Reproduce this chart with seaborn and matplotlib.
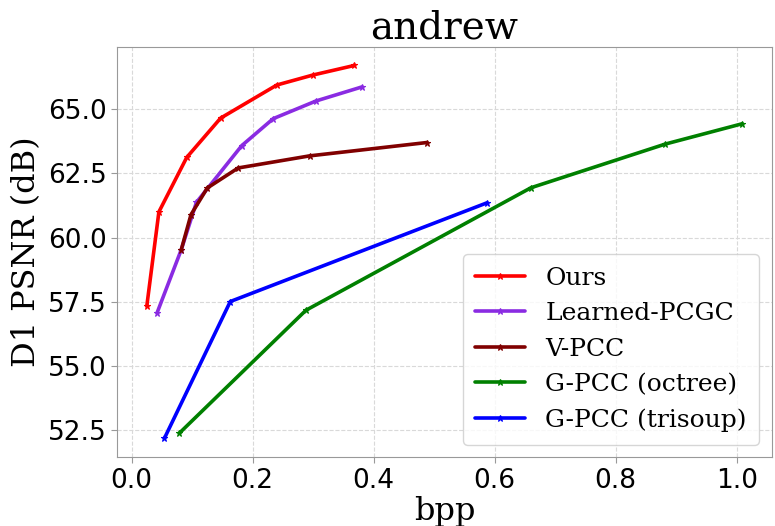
import numpy as np
import matplotlib
matplotlib.use("Agg")
import matplotlib.pyplot as plt
import pandas as pd
import seaborn as sns

# rate-distortion points
ours_bpp = [0.025, 0.045, 0.091, 0.147, 0.240, 0.300, 0.368]
ours_psnr = [57.33, 61.00, 63.12, 64.65, 65.94, 66.33, 66.70]

pcgc_bpp = [0.042, 0.082, 0.107, 0.182, 0.234, 0.305, 0.380]
pcgc_psnr = [57.07, 59.53, 61.37, 63.58, 64.63, 65.32, 65.86]

vpcc_bpp = [0.082, 0.098, 0.125, 0.176, 0.294, 0.488]
vpcc_psnr = [59.53, 60.89, 61.93, 62.71, 63.18, 63.70]

octree_bpp = [0.079, 0.288, 0.660, 0.882, 1.009]
octree_psnr = [52.39, 57.17, 61.94, 63.64, 64.43]

trisoup_bpp = [0.054, 0.163, 0.587]
trisoup_psnr = [52.18, 57.51, 61.35]

methods = ["Ours", "Learned-PCGC", "V-PCC", "G-PCC (octree)", "G-PCC (trisoup)"]
colors = ["red", "blueviolet", "maroon", "green", "blue"]

frames = []
for name, b, p in zip(methods,
                      [ours_bpp, pcgc_bpp, vpcc_bpp, octree_bpp, trisoup_bpp],
                      [ours_psnr, pcgc_psnr, vpcc_psnr, octree_psnr, trisoup_psnr]):
    frames.append(pd.DataFrame({"bpp": b, "psnr": p, "method": name}))
df = pd.concat(frames, ignore_index=True)

sns.set_style("whitegrid", {"grid.linestyle": "--", "grid.color": "#d9d9d9",
                            "axes.edgecolor": "#999999", "text.color": "black",
                            "xtick.color": "black", "ytick.color": "black",
                            "axes.labelcolor": "black"})

fig = plt.figure(figsize=(7.75, 5.26), dpi=100)
ax = fig.add_axes([0.151, 0.131, 0.845, 0.78])

for name, c in zip(methods, colors):
    sub = df[df["method"] == name]
    sns.lineplot(data=sub, x="bpp", y="psnr", ax=ax, color=c, linewidth=2.6,
                 marker="*", markersize=5, markeredgewidth=0.8,
                 markeredgecolor=c, label=name, sort=False)

ax.set_title("andrew", fontsize=28, family="DejaVu Serif", color="black")
ax.set_xlabel("bpp", fontsize=23, family="DejaVu Serif", labelpad=2)
ax.set_ylabel("D1 PSNR (dB)", fontsize=23, family="DejaVu Serif")
ax.tick_params(labelsize=19, length=4, color="#999999", left=True, bottom=True,
               labelcolor="black")
ax.set_xticks([0.0, 0.2, 0.4, 0.6, 0.8, 1.0])
ax.set_yticks([52.5, 55.0, 57.5, 60.0, 62.5, 65.0])
ax.set_yticklabels(["52.5", "55.0", "57.5", "60.0", "62.5", "65.0"])
ax.set_xticklabels(["0.0", "0.2", "0.4", "0.6", "0.8", "1.0"])
ax.margins(0.05)

leg = ax.legend(loc="lower right", prop={"family": "DejaVu Serif", "size": 18},
                handlelength=2.0, borderpad=0.5, labelspacing=0.5)
for t in leg.get_texts():
    t.set_color("black")

fig.savefig("out.png", dpi=100)
